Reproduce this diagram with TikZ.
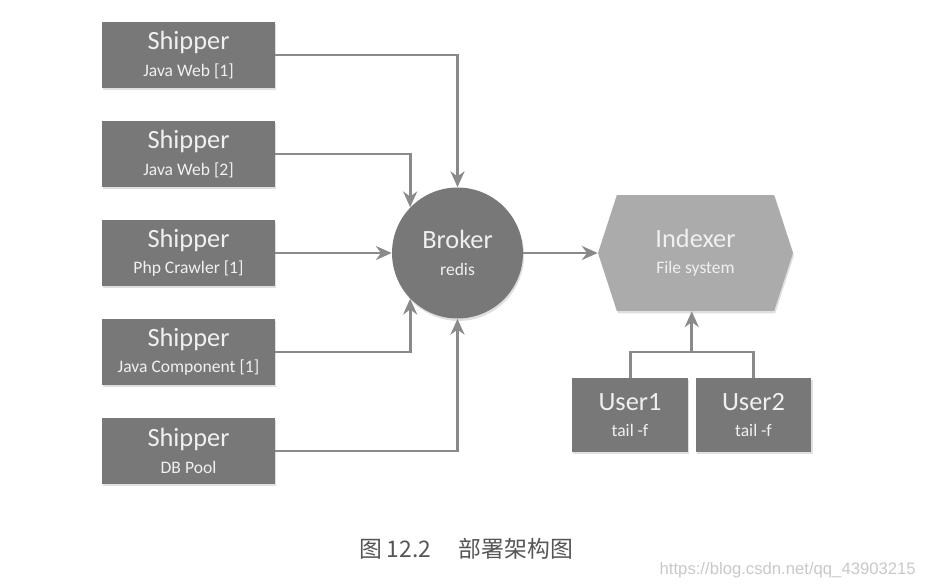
\documentclass[tikz,border=0pt]{standalone}
\usepackage{fontspec}
\setmainfont{Carlito}
\newfontfamily\cjkfont{Noto Sans CJK SC}
\newfontfamily\urlfont{Liberation Sans}
\usetikzlibrary{arrows.meta,shapes.symbols,shadows}
\definecolor{boxgray}{HTML}{787878}
\definecolor{hexgray}{HTML}{ABABAB}
\definecolor{boxtext}{HTML}{F0F0F0}
\definecolor{linegray}{HTML}{8A8A8A}
\definecolor{capgray}{HTML}{555555}
\definecolor{wmgray}{HTML}{C8C8C8}
\newcommand\bigname[1]{{\fontsize{15}{17}\selectfont #1}}
\newcommand\smallname[1]{{\fontsize{10}{12}\selectfont #1}}
\begin{document}
\begin{tikzpicture}[x=0.02cm,y=-0.02cm,
  shade/.style={drop shadow={opacity=0.25,shadow xshift=0.6pt,shadow yshift=-1.4pt}},
  box/.style={shade,fill=boxgray,text=boxtext,minimum width=3.46cm,minimum height=1.32cm,
    align=center,inner sep=0pt},
  conn/.style={draw=linegray,line width=1.7pt},
  arr/.style={conn,-{Stealth[length=9pt,width=8pt]}}]
 \useasboundingbox (0,0) rectangle (930,588);
 % shippers down the left
 \foreach \i/\sub in {1/Java Web [1],2/Java Web [2],3/Php Crawler [1],4/Java Component [1],5/DB Pool}
  \node[box] (s\i) at (188.5,{55+(\i-1)*99}) {\bigname{Shipper}\\[3pt]\smallname{\sub}};
 \node[circle,shade,fill=boxgray,text=boxtext,minimum size=2.62cm,align=center,inner sep=0pt]
  (broker) at (457.5,253) {\bigname{Broker}\\[3pt]\smallname{redis}};
 \node[signal,signal to=west and east,signal pointer angle=144,shade,fill=hexgray,text=boxtext,
  minimum width=3.9cm,minimum height=2.32cm,align=center,inner sep=0pt]
  (idx) at (695.5,253) {\bigname{Indexer}\\[3pt]\smallname{File system}};
 \node[box,minimum width=2.32cm,minimum height=1.48cm] (u1) at (630,415)
  {\bigname{User1}\\[3pt]\smallname{tail -f}};
 \node[box,minimum width=2.32cm,minimum height=1.48cm] (u2) at (753.5,415)
  {\bigname{User2}\\[3pt]\smallname{tail -f}};
 % connectors
 \draw[arr] (s1.east) -| (broker.north);
 \draw[arr] (s2.east) -| (broker.136);
 \draw[arr] (s3.east) -- (broker.west);
 \draw[arr] (s4.east) -| (broker.224);
 \draw[arr] (s5.east) -| (broker.south);
 \draw[arr] (broker.east) -- (idx.west);
 \coordinate (usplit) at (691.75,352);
 \draw[conn] (u1.north) |- (usplit) -| (u2.north);
 \draw[arr] (usplit) -- (usplit |- idx.south);
 % caption
 \node[text=capgray,font=\cjkfont\fontsize{13}{15}\selectfont] (cap) at (466,549)
  {图 12.2\hspace{1.2em}部署架构图};
 \node[text=wmgray,font=\urlfont\fontsize{9.5}{11}\selectfont,anchor=east] (wm) at (922,570)
  {https://blog.csdn.net/qq\_43903215};
\end{tikzpicture}
\end{document}
